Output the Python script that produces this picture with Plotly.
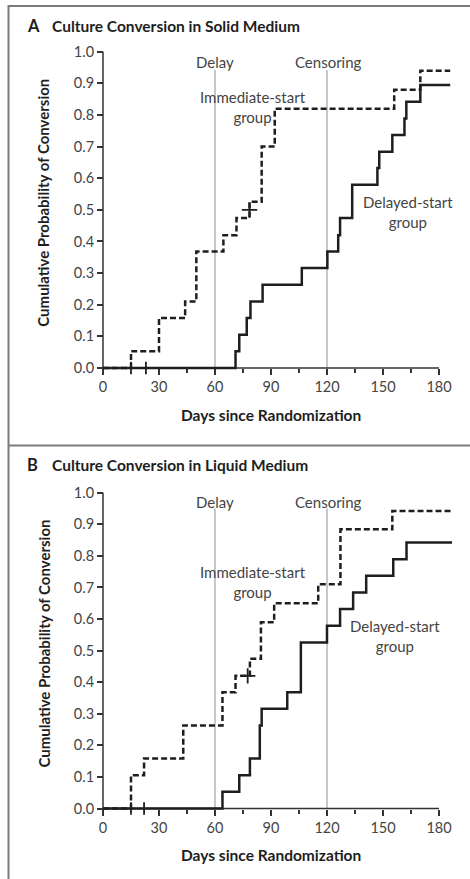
import plotly.graph_objects as go

# ---------------- data ----------------
x_ticks = [0, 30, 60, 90, 120, 150, 180]
x_minor = [15, 45, 75, 105, 135, 165]
y_ticks = [0.0, 0.1, 0.2, 0.3, 0.4, 0.5, 0.6, 0.7, 0.8, 0.9, 1.0]
y_ticklabels = ["0.0", "0.1", "0.2", "0.3", "0.4", "0.5", "0.6", "0.7", "0.8", "0.9", "1.0"]

# Panel A: solid medium
a_imm_days = [0, 15, 30, 44, 50, 64.5, 71.5, 78.5, 85, 92, 156, 170, 186]
a_imm_prob = [0, 0.053, 0.158, 0.21, 0.368, 0.42, 0.474, 0.526, 0.70, 0.82, 0.88, 0.94, 0.94]
a_del_days = [0, 71, 73, 77, 79, 85.5, 106.5, 120.2, 126, 127, 133.5, 147, 148, 155, 161.5, 162.5, 170, 186]
a_del_prob = [0, 0.053, 0.105, 0.158, 0.21, 0.263, 0.316, 0.368, 0.42, 0.474, 0.579, 0.632, 0.684, 0.737, 0.789, 0.842, 0.895, 0.895]
a_imm_censor_days = [78.5]
a_imm_censor_prob = [0.50]
a_del_censor_days = [15, 23]
a_del_censor_prob = [0, 0]

# Panel B: liquid medium
b_imm_days = [0, 15, 22, 43, 64, 71, 78.7, 84.6, 91.7, 115.3, 127.2, 155, 187]
b_imm_prob = [0, 0.105, 0.158, 0.263, 0.368, 0.42, 0.474, 0.59, 0.65, 0.71, 0.884, 0.942, 0.942]
b_del_days = [0, 64, 73, 78.7, 84, 85, 98.7, 106, 120, 127, 134, 141, 155.5, 162.6, 187]
b_del_prob = [0, 0.053, 0.105, 0.158, 0.263, 0.316, 0.368, 0.526, 0.579, 0.632, 0.684, 0.737, 0.789, 0.842, 0.842]
b_imm_censor_days = [77.5]
b_imm_censor_prob = [0.42]
b_del_censor_days = [15, 22]
b_del_censor_prob = [0, 0]

delay_day = 60
censor_day = 120

# ---------------- layout geometry ----------------
W, H = 470, 879
FONT = "Lato"
INK = "#1e1e1e"
GRAY_TXT = "#444444"


def py(p):
    return (H - p) / H


def px(p):
    return p / W


x_dom = [px(97.4), px(453.93)]
ya_dom = [py(377.49), py(42.21)]
yb_dom = [py(817.97), py(483.23)]

fig = go.Figure()

panels = [
    ("x", "y", a_imm_days, a_imm_prob, a_del_days, a_del_prob,
     a_imm_censor_days, a_imm_censor_prob, a_del_censor_days, a_del_censor_prob),
    ("x2", "y2", b_imm_days, b_imm_prob, b_del_days, b_del_prob,
     b_imm_censor_days, b_imm_censor_prob, b_del_censor_days, b_del_censor_prob),
]

for xr, yr, idays, iprob, ddays, dprob, icd, icp, dcd, dcp in panels:
    fig.add_trace(go.Scatter(x=ddays, y=dprob, mode="lines", line_shape="hv",
                             line=dict(color=INK, width=2.5), xaxis=xr, yaxis=yr,
                             showlegend=False, hoverinfo="skip"))
    fig.add_trace(go.Scatter(x=idays, y=iprob, mode="lines", line_shape="hv",
                             line=dict(color=INK, width=2.5, dash="6px,3px"),
                             xaxis=xr, yaxis=yr, showlegend=False, hoverinfo="skip"))
    fig.add_trace(go.Scatter(x=icd, y=icp, mode="markers",
                             marker=dict(symbol="cross-thin", size=11,
                                         line=dict(color=INK, width=1.8)),
                             xaxis=xr, yaxis=yr, showlegend=False, hoverinfo="skip",
                             cliponaxis=False))
    fig.add_trace(go.Scatter(x=dcd, y=dcp, mode="markers",
                             marker=dict(symbol="line-ns", size=9,
                                         line=dict(color=INK, width=1.8)),
                             xaxis=xr, yaxis=yr, showlegend=False, hoverinfo="skip",
                             cliponaxis=False))

tickfont = dict(family=FONT, size=14.5, color=GRAY_TXT)


def xaxis_cfg(pos):
    return dict(domain=x_dom, range=[-3, 188], anchor="free", position=pos,
                tickvals=x_ticks, ticktext=[str(v) for v in x_ticks],
                ticks="outside", ticklen=6, tickwidth=1.5, tickcolor="#333",
                showline=False, showgrid=False, zeroline=False, tickfont=tickfont,
                minor=dict(tickvals=x_minor, ticks="outside", ticklen=4,
                           tickwidth=1.5, tickcolor="#333", showgrid=False))


def yaxis_cfg(dom):
    return dict(domain=dom, range=[-0.03, 1.03], anchor="free", position=px(103),
                tickvals=y_ticks, ticktext=y_ticklabels,
                ticks="outside", ticklen=6, tickwidth=1.5, tickcolor="#333",
                showline=False, showgrid=False, zeroline=False, tickfont=tickfont)


fig.update_layout(
    width=W, height=H, margin=dict(l=0, r=0, t=0, b=0),
    paper_bgcolor="white", plot_bgcolor="white",
    xaxis=xaxis_cfg(py(368)), yaxis=yaxis_cfg(ya_dom),
    xaxis2=xaxis_cfg(py(808.5)), yaxis2=yaxis_cfg(yb_dom),
)

shapes = []
for xr, yr, top in [("x", "y", 0.942), ("x2", "y2", 0.95)]:
    for d in (delay_day, censor_day):
        shapes.append(dict(type="line", xref=xr, yref=yr, x0=d, x1=d, y0=0, y1=top,
                           line=dict(color="#b4b4b4", width=1.5), layer="below"))
    shapes.append(dict(type="line", xref=xr, yref=yr, x0=0, x1=180, y0=0, y1=0,
                       line=dict(color="#333", width=1.5), layer="below"))
    shapes.append(dict(type="line", xref=xr, yref=yr, x0=0, x1=0, y0=0, y1=1,
                       line=dict(color="#333", width=1.5), layer="below"))

# panel frame lines
frame = "#7a7a7a"
shapes.append(dict(type="line", xref="paper", yref="paper", x0=px(8.5), x1=1,
                   y0=py(6), y1=py(6), line=dict(color=frame, width=2)))
shapes.append(dict(type="line", xref="paper", yref="paper", x0=px(8.5), x1=1,
                   y0=py(445.5), y1=py(445.5), line=dict(color=frame, width=2)))
shapes.append(dict(type="line", xref="paper", yref="paper", x0=px(8.5), x1=px(8.5),
                   y0=py(5), y1=0, line=dict(color=frame, width=2)))
fig.update_layout(shapes=shapes)

ann = []
txt = dict(family=FONT, size=15, color=GRAY_TXT)
bold = dict(family=FONT, size=15.5, color=INK)

for xr, yr, dy, imm_xy, del_xy in [
    ("x", "y", 0.966, (80.3, 0.825), (163.5, 0.493)),
    ("x2", "y2", 0.97, (80.3, 0.716), (156.4, 0.545)),
]:
    ann.append(dict(xref=xr, yref=yr, x=delay_day, y=dy, text="Delay",
                    showarrow=False, font=txt, xanchor="center", yanchor="middle"))
    ann.append(dict(xref=xr, yref=yr, x=censor_day + 0.7, y=dy, text="Censoring",
                    showarrow=False, font=txt, xanchor="center", yanchor="middle"))
    ann.append(dict(xref=xr, yref=yr, x=imm_xy[0], y=imm_xy[1],
                    text="Immediate-start<br>group", showarrow=False, font=txt,
                    xanchor="center", yanchor="middle"))
    ann.append(dict(xref=xr, yref=yr, x=del_xy[0], y=del_xy[1],
                    text="Delayed-start<br>group", showarrow=False, font=txt,
                    xanchor="center", yanchor="middle"))

for letter, title, cy, xt_y, yt_y in [
    ("A", "Culture Conversion in Solid Medium", 26, 415, 202.7),
    ("B", "Culture Conversion in Liquid Medium", 465, 855, 643.5),
]:
    ann.append(dict(xref="paper", yref="paper", x=px(25), y=py(cy), text="<b>" + letter + "</b>",
                    showarrow=False, font=dict(family=FONT, size=16.5, color=INK),
                    xanchor="left", yanchor="middle"))
    ann.append(dict(xref="paper", yref="paper", x=px(50), y=py(cy), text="<b>" + title + "</b>",
                    showarrow=False, font=bold, xanchor="left", yanchor="middle"))
    ann.append(dict(xref="paper", yref="paper", x=px(271), y=py(xt_y),
                    text="<b>Days since Randomization</b>", showarrow=False, font=bold,
                    xanchor="center", yanchor="middle"))
    ann.append(dict(xref="paper", yref="paper", x=px(43), y=py(yt_y),
                    text="<b>Cumulative Probability of Conversion</b>", showarrow=False,
                    font=dict(family=FONT, size=15, color=INK), textangle=-90,
                    xanchor="center", yanchor="middle"))

fig.update_layout(annotations=ann)
fig.write_html("out.html")
